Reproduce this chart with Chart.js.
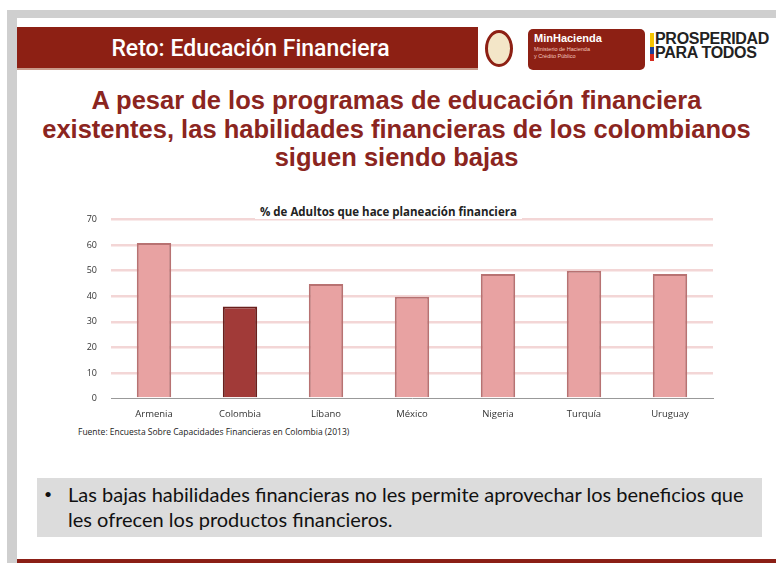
<!DOCTYPE html>
<html>
<head>
<meta charset="utf-8">
<script src="https://cdn.jsdelivr.net/npm/chart.js@4"></script>
<style>
  body { margin: 0; background: #fff; width: 776px; height: 563px; overflow: hidden; position: relative; font-family: "Liberation Sans", Arial, sans-serif; }
  #frame { position: absolute; left: 7px; top: 10px; width: 769px; height: 553px; background: #cfcfcf; }
  #slide { position: absolute; left: 17px; top: 18px; width: 759px; height: 541px; background: #fff; }
  #bottomline { position: absolute; left: 17px; top: 559px; width: 759px; height: 4px; background: #8b1f16; }
  #header { position: absolute; left: 17px; top: 27px; width: 461px; height: 43px; background: #8d2014; border-bottom: 2px solid #c99a8a; color: #fff; font-family: Roboto, sans-serif; font-weight: 500; font-size: 23px; text-align: center; line-height: 43px; padding-left: 6px; box-sizing: border-box; }
  #crest { position: absolute; left: 485px; top: 30px; width: 28px; height: 37px; border-radius: 50%; background: #f3e6c8; border: 3px solid #8d2014; box-sizing: border-box; }
  #minh { position: absolute; left: 528px; top: 29px; width: 117px; height: 41px; background: #8d2014; border-radius: 5px; color: #fff; }
  #minh b { position: absolute; left: 6px; top: 3px; font-size: 11px; font-family: "Liberation Sans Narrow", "Liberation Sans", sans-serif; }
  #minh span { position: absolute; left: 6px; top: 17px; font-size: 5.5px; line-height: 7px; color: #f3c7bf; }
  #prosp { position: absolute; left: 655px; top: 32px; font-size: 16px; font-weight: bold; line-height: 14px; color: #222; letter-spacing: -0.3px; font-family: "Liberation Sans Narrow", "Liberation Sans", sans-serif; }
  #stripe { position: absolute; left: 650px; top: 33px; width: 4px; height: 28px; background: linear-gradient(#f5c400 0 50%, #1d3f99 50% 75%, #d52b1e 75%); }
  #title { position: absolute; left: 17px; top: 86px; width: 759px; text-align: center; color: #8b2520; font-size: 25.5px; font-weight: bold; line-height: 28.5px; }
  #chartbox { position: absolute; left: 60px; top: 200px; width: 665px; height: 222px; }
  #ctitle { position: absolute; left: 255px; top: 204px; background: #fff; padding: 0 5px; font-family: "Open Sans", sans-serif; font-weight: bold; font-size: 11.5px; color: #222; }
  #source { position: absolute; left: 78px; top: 426px; font-family: "Open Sans", sans-serif; font-size: 8.5px; color: #222; }
  #note { position: absolute; left: 37px; top: 478px; width: 725px; height: 59px; background: #dcdcdc; font-family: Lato, sans-serif; font-size: 20px; line-height: 25px; color: #111; }
  #note .b { position: absolute; left: 7px; top: 3px; font-size: 14px; }
  #note .t { position: absolute; left: 31px; top: 4px; width: 720px; white-space: nowrap; }
</style>
</head>
<body>
<div id="frame"></div>
<div id="slide"></div>
<div id="bottomline"></div>
<div id="header">Reto: Educación Financiera</div>
<div id="crest"></div>
<div id="minh"><b>MinHacienda</b><span>Ministerio de Hacienda<br>y Crédito Público</span></div>
<div id="stripe"></div>
<div id="prosp">PROSPERIDAD<br>PARA TODOS</div>
<div id="title">A pesar de los programas de educación financiera<br>existentes, las habilidades financieras de los colombianos<br>siguen siendo bajas</div>
<div id="chartbox"><canvas id="chart"></canvas></div>
<div id="ctitle">% de Adultos que hace planeación financiera</div>
<div id="source">Fuente: Encuesta Sobre Capacidades Financieras en Colombia (2013)</div>
<div id="note"><span class="b">•</span><span class="t">Las bajas habilidades financieras no les permite aprovechar los beneficios que<br>les ofrecen los productos financieros.</span></div>
<script>
// data
const countries = ['Armenia', 'Colombia', 'Líbano', 'México', 'Nigeria', 'Turquía', 'Uruguay'];
const adultsPlanning = [60.8, 36, 44.8, 39.8, 48.7, 49.9, 48.7];
const yTicks = [0, 10, 20, 30, 40, 50, 60, 70];

const fills = countries.map(c => c === 'Colombia' ? '#a13a38' : '#e8a2a2');
const borders = countries.map(c => c === 'Colombia' ? '#6a1f1c' : '#b87272');

const ctx = document.getElementById('chart').getContext('2d');

const chart = new Chart(ctx, {
    type: 'bar',
    data: {
        labels: countries,
        datasets: [{
            label: '% de Adultos que hace planeación financiera',
            data: adultsPlanning,
            backgroundColor: fills,
            borderColor: borders,
            borderWidth: 2,
            barPercentage: 0.4,
            categoryPercentage: 1
        }]
    },
    options: {
        responsive: true,
        maintainAspectRatio: false,
        animation: false,
        layout: { padding: { top: 17, right: 12 } },
        plugins: {
            legend: { display: false },
            title: { display: false },
            tooltip: { enabled: false }
        },
        scales: {
            x: {
                grid: { display: false },
                border: { color: '#999', width: 1 },
                ticks: { color: '#333', font: { family: 'Open Sans', size: 9.5 }, padding: 2 }
            },
            y: {
                min: 0,
                max: 70,
                afterBuildTicks: axis => { axis.ticks = yTicks.map(v => ({ value: v })); },
                afterFit: axis => { axis.width = 51; },
                border: { display: false },
                grid: {
                    color: ctx => ctx.tick.value === 0 ? 'rgba(0,0,0,0)' : '#f3d6d6',
                    lineWidth: 2.5,
                    drawTicks: false
                },
                ticks: { color: '#333', font: { family: 'Open Sans', size: 9 }, padding: 14 }
            }
        }
    }
});
</script>
</body>
</html>
